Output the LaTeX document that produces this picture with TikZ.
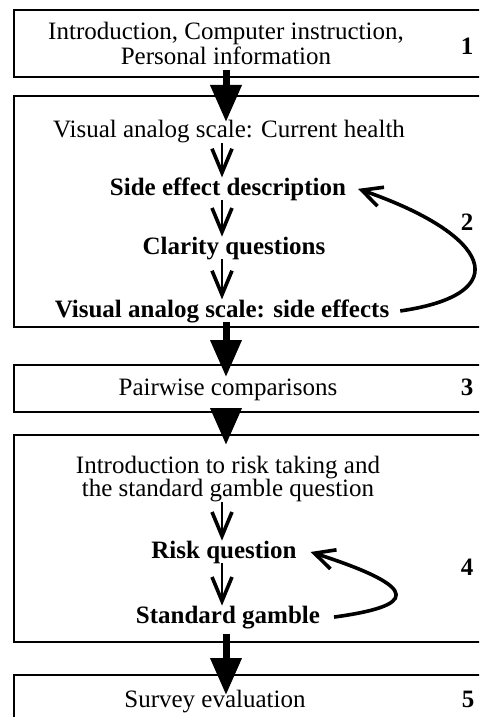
\documentclass[tikz,border=0pt]{standalone}
\usepackage{fontspec}
\setmainfont{Liberation Serif}
\usepackage{tikz}
\usetikzlibrary{arrows,arrows.meta,positioning}
\tikzstyle{stage} = [draw, line width=1.4pt, minimum width=245pt, anchor=north west]
\tikzstyle{bigarrow} = [line width=3.5pt,-{Triangle[width=15pt,length=18.5pt]}]
\tikzstyle{arrow} = [line width=1.3pt,-{Straight Barb[width=10pt,length=12pt,line width=1.8pt]}]
\tikzstyle{looparrow} = [line width=1.8pt,-{Straight Barb[width=10pt,length=10pt,line width=1.8pt]}]
\tikzstyle{bold} = [font=\fontsize{12.5}{11.4}\selectfont\bfseries]

\begin{document}
\begin{tikzpicture}[
        x=0.5pt, y=-0.5pt,
        every node/.style={align=center, inner sep=0pt, outer sep=0pt, font=\fontsize{12.5}{11.4}\selectfont}
        ]
    \clip (0,0) rectangle (479,717);
    \coordinate (spine) at (226,0);
    \coordinate (stem) at (222,0);

    \node[stage, minimum height=33.5pt] (b1) at (14,10) {};
    \node[stage, minimum height=115.5pt] (b2) at (14,96) {};
    \node[stage, minimum height=23.5pt] (b3) at (14,365) {};
    \node[stage, minimum height=103.5pt] (b4) at (14,435) {};
    \node[stage, minimum height=35pt] (b5) at (14,675) {};

    \node (t1) at (226,43) {Introduction, Computer instruction,\\Personal information};
    \node[anchor=base, bold] (n1) at (467,55) {1};

    \node[anchor=base] (t2a) at (229,138) {Visual analog scale: Current health};
    \node[anchor=base, bold] (t2b) at (228,195) {Side effect description};
    \node[anchor=base, bold] (t2c) at (234,254) {Clarity questions};
    \node[anchor=base, bold] (t2d) at (222,317) {Visual analog scale: side effects};
    \node[anchor=base, bold] (n2) at (467,230) {2};

    \node[anchor=base] (t3) at (228,395) {Pairwise comparisons};
    \node[anchor=base, bold] (n3) at (467,395) {3};

    \node (t4a) at (228,479) {Introduction to risk taking and\\the standard gamble question};
    \node[anchor=base, bold] (t4b) at (224,558) {Risk question};
    \node[anchor=base, bold] (t4c) at (228,623) {Standard gamble};
    \node[anchor=base, bold] (n4) at (467,575) {4};

    \node[anchor=base] (t5) at (215,707) {Survey evaluation};
    \node[anchor=base, bold] (n5) at (468,707) {5};

    \draw[bigarrow] ([yshift=3.5pt]b1.south -| spine) -- ([yshift=-13pt]b2.north -| spine);
    \draw[bigarrow] ([yshift=2.5pt]b2.south -| spine) -- ([yshift=-6pt]b3.north -| spine);
    \draw[bigarrow] ([yshift=2pt]b3.south -| spine) -- ([yshift=-5pt]b4.north -| spine);
    \draw[bigarrow] ([yshift=4pt]b4.south -| spine) -- ([yshift=-10pt]b5.north -| spine);

    \draw[arrow] (t2a.south -| stem) -- (t2b.north -| stem);
    \draw[arrow] (t2b.south -| stem) -- (t2c.north -| stem);
    \draw[arrow] (t2c.south -| stem) -- (t2d.north -| stem);
    \draw[arrow] (t4a.south -| stem) -- (t4b.north -| stem);
    \draw[arrow] (t4b.south -| stem) -- (t4c.north -| stem);

    \draw[looparrow] ([xshift=5.5pt]t2d.east) .. controls +(117,-17) and +(133,46) .. ([xshift=6pt]t2b.east);
    \draw[looparrow] ([xshift=7pt]t4c.east) .. controls +(80,-11) and +(115,37) .. ([xshift=7pt]t4b.east);
\end{tikzpicture}
\end{document}
